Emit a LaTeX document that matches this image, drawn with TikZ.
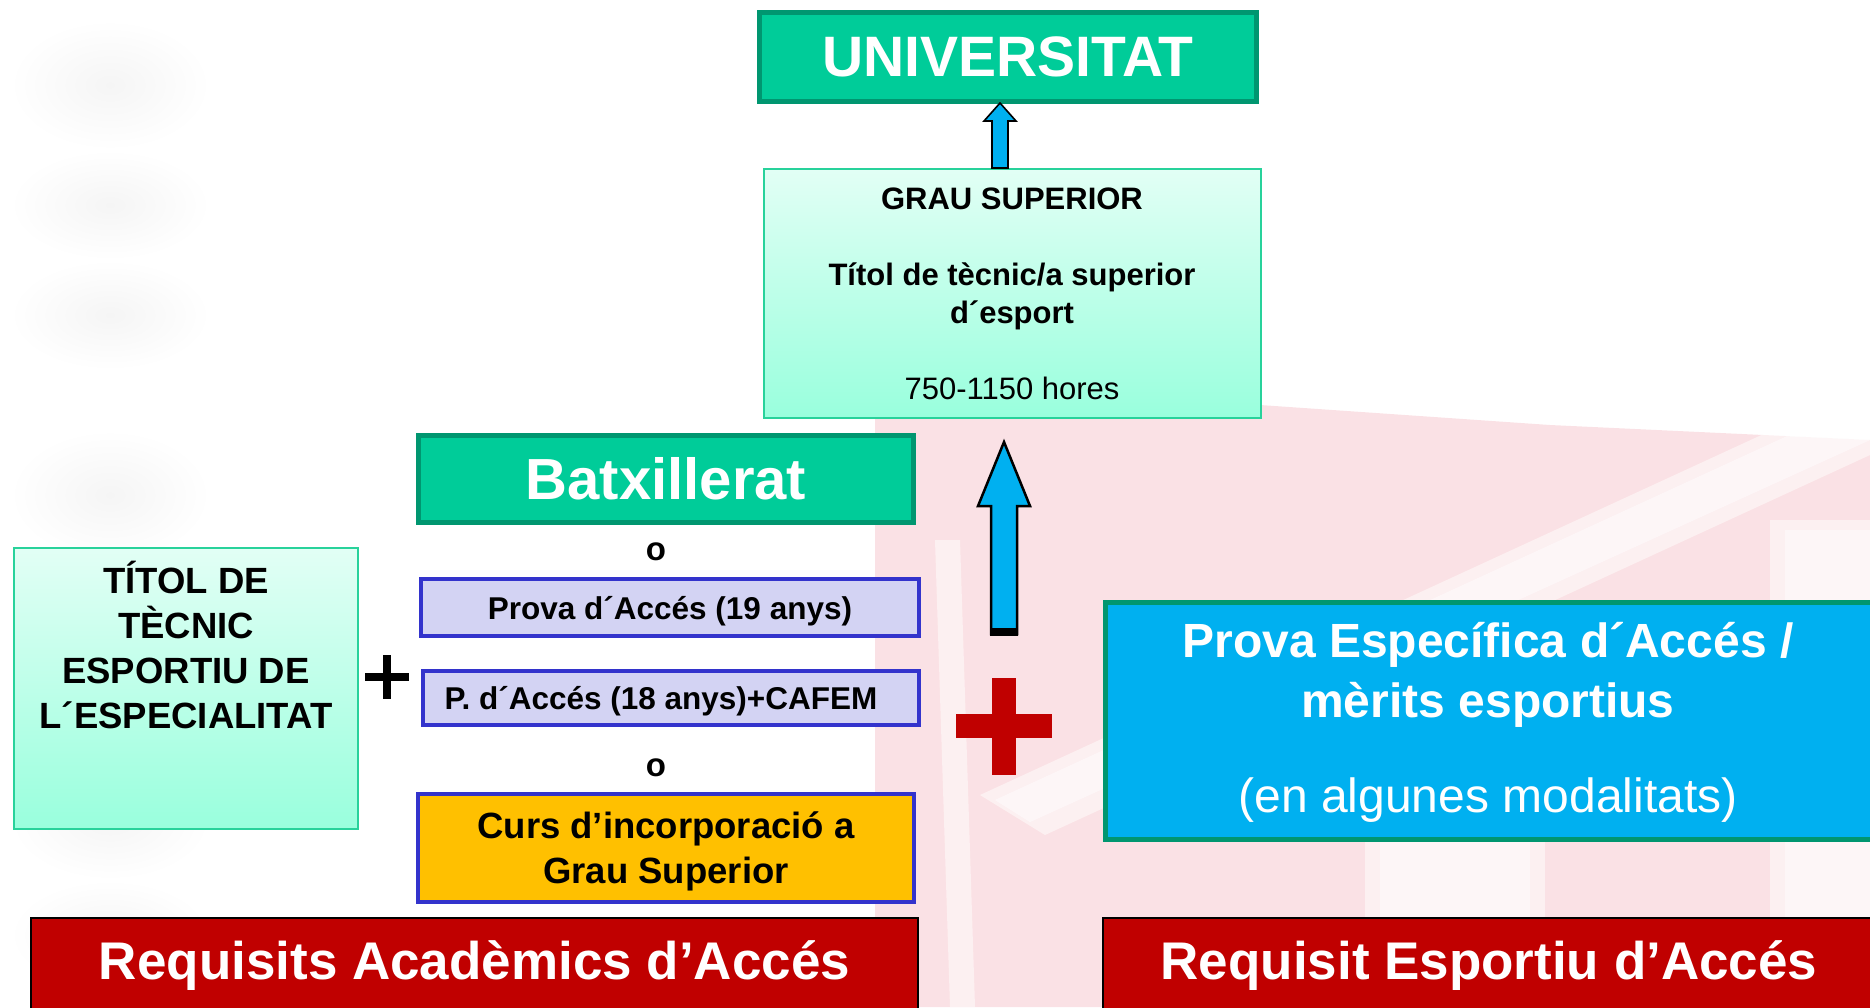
\documentclass[tikz,border=0pt]{standalone}
\usepackage{fontspec}
\setmainfont{Liberation Sans}
\usetikzlibrary{fadings}
\definecolor{gfill}{RGB}{0,204,153}
\definecolor{gborder}{RGB}{0,150,112}
\definecolor{aqtop}{RGB}{226,255,245}
\definecolor{aqbot}{RGB}{153,255,221}
\definecolor{aqborder}{RGB}{40,210,155}
\definecolor{lavfill}{RGB}{211,211,243}
\definecolor{lavborder}{RGB}{51,51,204}
\definecolor{orfill}{RGB}{255,192,0}
\definecolor{skyfill}{RGB}{0,176,240}
\definecolor{redfill}{RGB}{192,0,0}
\definecolor{pinkbg}{RGB}{249,218,222}
\newcommand\fsz[2]{\fontsize{#1}{#2}\selectfont}
\tikzfading[name=softblob, inner color=transparent!0, outer color=transparent!100]
\begin{document}
\begin{tikzpicture}[x=1pt,y=-1pt,
  gbox/.style={draw=gborder,fill=gfill,line width=5pt,inner sep=0pt,text=white,font=\bfseries},
  aqbox/.style={draw=aqborder,line width=2pt,top color=aqtop,bottom color=aqbot,inner sep=0pt},
  lavbox/.style={draw=lavborder,fill=lavfill,line width=4pt,inner sep=0pt,font=\bfseries},
  orbox/.style={draw=lavborder,fill=orfill,line width=4pt,inner sep=0pt,font=\bfseries},
  skybox/.style={draw=gborder,fill=skyfill,line width=5pt,inner sep=0pt,text=white},
  redbar/.style={draw=black,fill=redfill,line width=2pt,inner sep=0pt,text=white,font=\bfseries},
  blockarrow/.style={draw=black,fill=skyfill,line join=miter},
  txt/.style={inner sep=0pt,align=center},
  bgpink/.style={fill=pinkbg,opacity=0.8},
  bgwhite/.style={fill=white,opacity=0.5}]
\useasboundingbox (0,0) rectangle (1870,1007);
% faint background watermark
\fill[bgpink] (875,392) -- (1260,405) -- (1550,425) -- (1870,440) -- (1870,1007) -- (875,1007) -- cycle;
\fill[bgwhite] (980,795) -- (1870,385) -- (1870,455) -- (1045,835) -- cycle;
\fill[bgwhite] (995,800) -- (1870,398) -- (1870,440) -- (1030,822) -- cycle;
\fill[bgwhite] (1365,700) rectangle (1545,1007);
\fill[bgwhite] (1380,700) rectangle (1530,1007);
\fill[bgwhite] (1770,520) rectangle (1870,1007);
\fill[bgwhite] (1785,530) rectangle (1870,1007);
\fill[bgwhite] (935,540) -- (960,540) -- (975,1007) -- (950,1007) -- cycle;
\foreach \yy/\hh in {20/130, 150/110, 260/110, 430/130, 600/120, 760/120, 880/110}
  \fill[black!4,path fading=softblob] (10,\yy) rectangle (210,\yy+\hh);
% boxes
\node[gbox,minimum width=497pt,minimum height=89pt,font=\bfseries\fsz{57}{60}] (univ) at (1008,57) {UNIVERSITAT};
\node[aqbox,minimum width=497pt,minimum height=249pt] (grau) at (1012,293) {};
\node[txt,font=\bfseries\fsz{31}{38}] (grautxt) at (1012,293.6) {GRAU SUPERIOR\\[38pt]T\'{\i}tol de tècnic/a superior\\d´esport\\[38pt]\mdseries 750-1150 hores};
\node[gbox,minimum width=495pt,minimum height=87pt,font=\bfseries\fsz{58}{60}] (batx) at (666,479) {Batxillerat};
\node[txt,font=\bfseries\fsz{33}{36}] (o1) at (656,552) {o};
\node[lavbox,minimum width=498pt,minimum height=57pt] (p19) at (670,607.5) {};
\node[txt,font=\bfseries\fsz{31.5}{36}] (p19txt) at (670,611) {Prova d´Accés (19 anys)};
\node[lavbox,minimum width=496pt,minimum height=54pt] (p18) at (671,698) {};
\node[txt,font=\bfseries\fsz{31.5}{36}] (p18txt) at (661,701.4) {P. d´Accés (18 anys)+CAFEM};
\node[txt,font=\bfseries\fsz{33}{36}] (o2) at (656,767.5) {o};
\node[orbox,minimum width=496pt,minimum height=108pt] (curs) at (666,848) {};
\node[txt,font=\bfseries\fsz{36.5}{45}] (curstxt) at (666,851.5) {Curs d’incorporació a\\Grau Superior};
\node[aqbox,minimum width=344pt,minimum height=281pt] (titol) at (186,688.5) {};
\node[txt,font=\bfseries\fsz{36.5}{45}] (titoltxt) at (186,645) {T\'{I}TOL DE\\TÈCNIC\\ESPORTIU DE\\L´ESPECIALITAT};
\node[skybox,minimum width=768pt,minimum height=237pt] (espec) at (1489,721) {};
\node[txt,text=white,font=\bfseries\fsz{48}{60}] (espectxt) at (1488,722) {Prova Específica d´Accés /\\mèrits esportius\\[35pt]\mdseries (en algunes modalitats)};
\node[redbar,minimum width=887pt,minimum height=96pt,font=\bfseries\fsz{53}{60}] (reqa) at (474.5,966) {Requisits Acadèmics d’Accés};
\node[redbar,minimum width=772pt,minimum height=96pt,font=\bfseries\fsz{53}{60}] (reqe) at (1489,966) {Requisit Esportiu d’Accés};
% black plus between the title box and the access options
\draw[line width=8pt] (365,677) -- (409,677) (387,655) -- (387,699);
% small block arrow GRAU -> UNIVERSITAT
\coordinate (sb) at (1000,103);
\draw[blockarrow,line width=1.6pt] (992,168) -- (992,121) -- (984,121) -- (sb) -- (1016,121) -- (1008,121) -- (1008,168) -- cycle;
% big block arrow up to GRAU
\coordinate (btip) at (1004,442);
\draw[blockarrow,line width=2.5pt] (991,634) -- (991,506) -- (978,506) -- (btip) -- (1030,506) -- (1017,506) -- (1017,634) -- cycle;
\fill[black] (990,628) rectangle (1018,636);
% red plus
\fill[redfill] (992,678) rectangle (1016,775);
\fill[redfill] (956,714) rectangle (1052,738);
\end{tikzpicture}
\end{document}
